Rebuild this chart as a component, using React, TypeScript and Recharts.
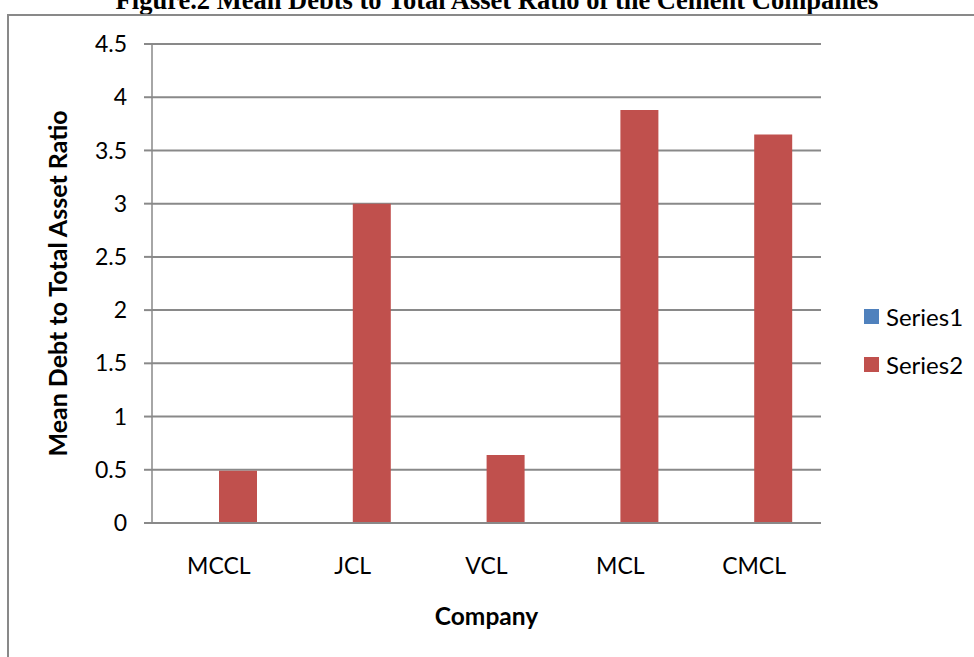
import { Bar, BarChart, CartesianGrid, Legend, XAxis, YAxis } from 'recharts';

const companies = ['MCCL', 'JCL', 'VCL', 'MCL', 'CMCL'];
const series1 = [0, 0, 0, 0, 0];
const series2 = [0.49, 3.0, 0.64, 3.88, 3.65];
const yTicks = [0, 0.5, 1, 1.5, 2, 2.5, 3, 3.5, 4, 4.5];

const data = companies.map((name, i) => ({
  name,
  Series1: series1[i],
  Series2: series2[i],
}));

const FONT = 'Lato, "Open Sans", sans-serif';
const GRID = '#898989';

function LegendList({ payload }: { payload?: { value: string; color: string }[] }) {
  return (
    <ul style={{ listStyle: 'none', margin: 0, padding: 0 }}>
      {(payload ?? []).map((p) => (
        <li
          key={p.value}
          style={{
            display: 'flex',
            alignItems: 'center',
            height: 48,
            whiteSpace: 'nowrap',
            fontFamily: FONT,
            fontSize: 24,
            color: '#000',
          }}
        >
          <span
            style={{ display: 'inline-block', flex: '0 0 15px', width: 15, height: 15, background: p.color, marginRight: 7 }}
          />
          {p.value}
        </li>
      ))}
    </ul>
  );
}

export default function App() {
  return (
    <div style={{ position: 'absolute', left: 0, top: 0, width: 974, height: 657, overflow: 'hidden', background: '#fff' }}>
      <svg width={974} height={40} style={{ position: 'absolute', left: 0, top: 0 }}>
        <text
          x={497}
          y={9}
          textAnchor="middle"
          fontFamily='"Liberation Serif", "Times New Roman", serif'
          fontWeight="bold"
          fontSize={26.5}
          fill="#000"
        >
          Figure.2 Mean Debts to Total Asset Ratio of the Cement Companies
        </text>
      </svg>
      <div
        style={{
          position: 'absolute',
          left: 7,
          top: 14,
          width: 990,
          height: 700,
          border: `2px solid ${GRID}`,
          boxSizing: 'border-box',
        }}
      />
      <div style={{ position: 'absolute', left: 0, top: 0 }}>
        <BarChart
          width={974}
          height={657}
          data={data}
          margin={{ top: 44, right: 13, bottom: 24, left: 20 }}
          barSize={38}
          barGap={0}
        >
          <CartesianGrid vertical={false} stroke={GRID} strokeWidth={2} />
          <XAxis
            dataKey="name"
            height={110}
            axisLine={{ stroke: GRID, strokeWidth: 2 }}
            tickLine={false}
            tickSize={0}
            tickMargin={35}
            tick={{ fill: '#000', fontFamily: FONT, fontSize: 23 }}
            label={{
              value: 'Company',
              position: 'insideBottom',
              offset: 8,
              fill: '#000',
              fontFamily: FONT,
              fontSize: 24.5,
              fontWeight: 'bold',
            }}
          />
          <YAxis
            width={132}
            domain={[0, 4.5]}
            ticks={yTicks}
            interval={0}
            axisLine={{ stroke: GRID, strokeWidth: 1.5 }}
            tickLine={{ stroke: GRID, strokeWidth: 2 }}
            tickSize={8}
            tickMargin={17}
            tick={{ fill: '#000', fontFamily: FONT, fontSize: 23 }}
            label={{
              value: 'Mean Debt to Total Asset Ratio',
              angle: -90,
              position: 'insideLeft',
              offset: 38,
              fill: '#000',
              fontFamily: FONT,
              fontSize: 25,
              fontWeight: 'bold',
              style: { textAnchor: 'middle' },
            }}
          />
          <Legend
            layout="vertical"
            align="right"
            verticalAlign="top"
            content={<LegendList />}
            wrapperStyle={{ top: 292, width: 140, paddingLeft: 43, boxSizing: 'border-box' }}
          />
          <Bar dataKey="Series1" fill="#4F81BD" isAnimationActive={false} />
          <Bar dataKey="Series2" fill="#C0504D" isAnimationActive={false} />
        </BarChart>
      </div>
    </div>
  );
}
